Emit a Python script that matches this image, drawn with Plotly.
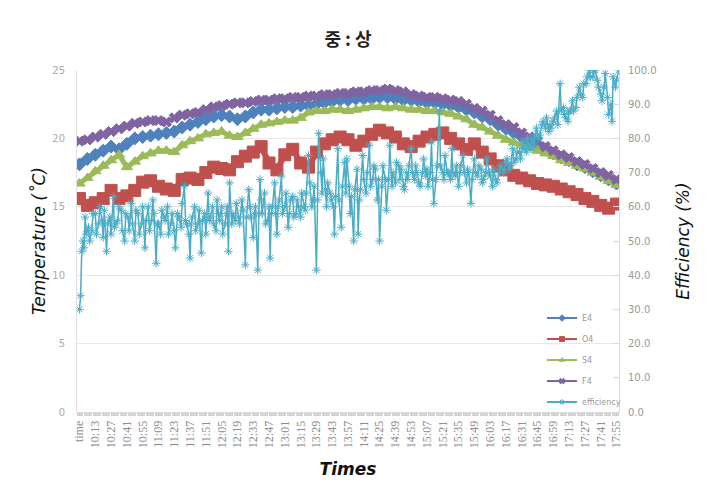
import plotly.graph_objects as go

# ---------------- data ----------------
tick_labels = ["time", "10:13", "10:27", "10:41", "10:55", "11:09", "11:23", "11:37", "11:51",
               "12:05", "12:19", "12:33", "12:47", "13:01", "13:15", "13:29", "13:43", "13:57",
               "14:11", "14:25", "14:39", "14:53", "15:07", "15:21", "15:35", "15:49", "16:03",
               "16:17", "16:31", "16:45", "16:59", "17:13", "17:27", "17:41", "17:55"]
tick_step_min = 14  # minutes between labelled categories

series_names = ["E4", "O4", "S4", "F4", "efficiency"]

# temperature samples, minutes after the first record ("time" row), every 7 minutes
temp_t = list(range(0, 477, 7))

E4 = [18.1, 18.5, 18.8, 19.1, 19.4, 19.2, 19.6, 20.0, 20.1, 20.2,
      20.3, 20.4, 20.5, 20.8, 21.0, 21.2, 21.4, 21.6, 21.7, 21.6,
      21.4, 21.6, 21.9, 22.1, 22.1, 22.2, 22.3, 22.3, 22.4, 22.4,
      22.5, 22.6, 22.7, 22.8, 22.8, 22.9, 22.9, 22.9, 23.0, 23.0,
      22.9, 22.8, 22.8, 22.7, 22.6, 22.6, 22.5, 22.4, 22.3, 22.1,
      21.9, 21.6, 21.4, 21.0, 20.7, 20.4, 20.1, 19.8, 19.5, 19.2,
      18.9, 18.6, 18.4, 18.1, 17.9, 17.6, 17.3, 17.0, 16.7]

O4 = [15.6, 15.1, 15.3, 15.6, 16.2, 15.6, 15.8, 16.2, 16.8, 16.9,
      16.5, 16.3, 16.2, 17.0, 17.1, 17.0, 17.5, 17.9, 17.8, 17.7,
      18.3, 18.7, 19.0, 19.4, 18.2, 17.7, 18.8, 19.2, 18.2, 17.9,
      19.0, 19.6, 19.9, 20.1, 19.9, 19.5, 19.8, 20.3, 20.6, 20.4,
      20.1, 19.6, 19.4, 19.8, 20.1, 20.3, 20.4, 20.0, 19.6, 19.2,
      19.6, 19.0, 18.5, 18.0, 17.7, 17.3, 17.1, 16.9, 16.7, 16.6,
      16.5, 16.3, 16.1, 15.9, 15.6, 15.4, 15.1, 14.9, 15.2]

S4 = [16.7, 17.1, 17.6, 18.0, 18.4, 18.8, 17.9, 18.3, 18.7, 18.9,
      19.1, 19.1, 19.0, 19.5, 19.8, 20.0, 20.3, 20.4, 20.5, 20.2,
      20.1, 20.4, 20.7, 21.0, 21.1, 21.2, 21.3, 21.3, 21.5, 21.9,
      22.0, 22.0, 22.1, 22.1, 22.0, 22.1, 22.2, 22.3, 22.3, 22.2,
      22.3, 22.2, 22.1, 22.1, 22.0, 22.0, 21.9, 21.8, 21.6, 21.4,
      21.0, 20.8, 20.5, 20.2, 19.9, 19.7, 19.5, 19.3, 19.1, 18.9,
      18.7, 18.4, 18.2, 18.0, 17.8, 17.5, 17.2, 16.9, 16.6]

F4 = [19.8, 19.9, 20.1, 20.3, 20.5, 20.7, 20.9, 21.1, 21.2, 21.3,
      21.3, 21.2, 21.5, 21.7, 21.8, 21.9, 22.1, 22.3, 22.4, 22.5,
      22.6, 22.6, 22.7, 22.8, 22.8, 22.9, 22.9, 23.0, 23.0, 23.1,
      23.1, 23.2, 23.2, 23.3, 23.3, 23.4, 23.4, 23.5, 23.5, 23.6,
      23.5, 23.4, 23.2, 23.1, 23.0, 23.0, 22.9, 22.8, 22.7, 22.5,
      22.2, 22.0, 21.7, 21.3, 21.0, 20.8, 20.4, 20.1, 19.8, 19.4,
      19.1, 18.8, 18.6, 18.3, 18.1, 17.8, 17.5, 17.3, 17.0]

# efficiency samples (minutes after the first record, %)
eff_t = [0, 1, 2, 3, 4, 5, 6, 8, 9, 11,
         12, 14, 15, 17, 18, 20, 21, 22, 24, 25,
         27, 28, 30, 31, 32, 34, 35, 37, 38, 40,
         41, 43, 44, 46, 47, 49, 50, 52, 53, 55,
         56, 58, 59, 61, 62, 64, 65, 66, 68, 69,
         70, 72, 73, 75, 76, 78, 79, 81, 82, 84,
         85, 87, 88, 90, 91, 93, 94, 95, 97, 98,
         99, 100, 102, 103, 105, 106, 108, 109, 111, 112,
         114, 115, 116, 118, 119, 121, 122, 123, 124, 126,
         127, 129, 130, 131, 132, 133, 135, 136, 138, 139,
         141, 142, 144, 145, 147, 148, 150, 151, 152, 154,
         155, 156, 158, 159, 160, 161, 162, 164, 165, 167,
         168, 169, 170, 171, 173, 174, 175, 176, 177, 179,
         180, 182, 183, 185, 186, 187, 189, 190, 192, 193,
         194, 196, 197, 199, 200, 201, 203, 204, 206, 207,
         208, 210, 211, 212, 214, 215, 216, 218, 219, 220,
         222, 223, 225, 226, 227, 229, 230, 232, 233, 235,
         236, 237, 239, 240, 241, 243, 244, 246, 247, 248,
         249, 251, 252, 254, 255, 257, 258, 260, 261, 262,
         264, 265, 266, 268, 269, 271, 272, 274, 275, 277,
         278, 280, 281, 283, 284, 285, 287, 288, 290, 291,
         292, 294, 295, 297, 298, 299, 301, 302, 304, 305,
         307, 308, 309, 311, 312, 313, 314, 316, 317, 319,
         320, 322, 323, 324, 326, 327, 329, 330, 331, 333,
         334, 336, 337, 338, 340, 341, 343, 344, 345, 347,
         348, 350, 351, 353, 354, 356, 357, 358, 360, 361,
         363, 364, 366, 367, 369, 370, 372, 373, 375, 376,
         378, 379, 381, 382, 384, 385, 387, 388, 390, 391,
         393, 394, 396, 397, 398, 400, 401, 403, 404, 405,
         407, 408, 410, 411, 413, 414, 416, 417, 418, 420,
         421, 423, 424, 426, 427, 429, 430, 431, 433, 434,
         435, 437, 438, 440, 441, 443, 444, 446, 447, 449,
         450, 452, 453, 455, 456, 457, 459, 460, 462, 463,
         465, 466, 468, 469, 471, 472, 473, 475, 476, 478]
eff_v = [30, 34, 47, 50, 48, 57, 52, 54, 50, 53,
         58, 58, 52, 55, 60, 56, 51, 59, 47, 55,
         57, 52, 63, 54, 55, 56, 60, 59, 53, 50,
         58, 57, 53, 61, 55, 50, 59, 58, 52, 55,
         60, 48, 56, 60, 53, 56, 62, 58, 43.5, 55,
         55, 52, 59, 57, 56, 60, 52, 55, 58, 53,
         48, 58, 57, 54, 61, 66, 56, 55, 52, 45,
         55, 57, 60, 53, 55, 59, 46.5, 56, 58, 52,
         64, 56, 57, 60, 55, 53, 62, 58, 56, 60,
         52, 55, 58, 60, 47, 67, 55, 58, 56, 61,
         57, 55, 62, 59, 43, 57, 65, 60, 57, 51,
         58, 60, 41.5, 58, 68, 62, 58, 64, 55, 56,
         60, 45, 58, 60, 67, 58, 52, 60, 62, 69,
         58, 60, 64, 54, 58, 62, 63, 57, 58, 62,
         60, 57, 64, 60, 59, 64, 75, 67, 60, 62,
         66, 41.5, 62, 81.5, 70, 64, 74, 65, 60, 67,
         64, 62, 60, 52, 63, 77, 62, 54, 66, 73,
         64, 74, 66, 58, 63, 50, 65, 71, 52, 62,
         65, 75, 68, 64, 70, 78, 66, 68, 72, 71,
         62, 68, 50, 66, 72, 68, 59, 68, 78, 66,
         70, 67, 73, 72, 68, 71, 66, 65, 70, 68,
         72, 77, 70, 68, 72, 70, 67, 66, 70, 74,
         69, 71, 66, 70, 79, 68, 61, 68, 72, 88,
         72, 70, 68, 75, 70, 70, 68, 77, 70, 69,
         72, 66, 70, 72, 75, 70, 67, 71, 70, 61,
         68, 74, 70, 69, 72, 71, 67, 68, 70, 74,
         70, 69, 66, 71, 68, 67, 70, 72, 71, 70,
         73, 74, 71, 72, 77, 73, 74, 76, 76, 74,
         79, 77, 76, 80, 78, 77, 80, 78, 81, 83,
         80, 81, 84, 85, 83, 86, 82, 84, 83, 85,
         86, 88, 84, 96, 88, 89, 87, 86, 85, 88,
         88, 91, 88, 89, 92, 95, 93, 92, 96, 96,
         98, 100, 98, 98, 100, 100, 97, 95, 93, 91,
         95, 99, 92, 87, 90, 85, 98, 95, 97, 100]

# ---------------- styles ----------------
colors = {"E4": "#4F81BD", "O4": "#C0504D", "S4": "#9BBB59", "F4": "#8064A2", "efficiency": "#4BACC6"}
symbols = {"E4": "diamond", "O4": "square", "S4": "triangle-up", "F4": "x", "efficiency": "asterisk-open"}
plot_msize = {"E4": 10, "O4": 12, "S4": 10, "F4": 9, "efficiency": 7}
plot_lwidth = {"E4": 5, "O4": 6, "S4": 5, "F4": 4, "efficiency": 1.5}
TICK_GRAY = "#8c8c8c"

temp_data = {"E4": E4, "O4": O4, "S4": S4, "F4": F4}

fig = go.Figure()
for name in ["E4", "O4", "S4", "F4"]:
    fig.add_trace(go.Scatter(
        x=temp_t, y=temp_data[name], name=name, mode="lines+markers", showlegend=False,
        line=dict(color=colors[name], width=plot_lwidth[name]),
        marker=dict(symbol=symbols[name], size=plot_msize[name], color=colors[name],
                    line=dict(color=colors[name], width=1))))
fig.add_trace(go.Scatter(
    x=eff_t, y=eff_v, name="efficiency", mode="lines+markers", yaxis="y2", showlegend=False,
    line=dict(color=colors["efficiency"], width=plot_lwidth["efficiency"]),
    marker=dict(symbol=symbols["efficiency"], size=plot_msize["efficiency"],
                color=colors["efficiency"], line=dict(color=colors["efficiency"], width=1))))

# legend entries (small symbols like the original legend)
for name in series_names:
    fig.add_trace(go.Scatter(
        x=[None], y=[None], name=name, mode="lines+markers", legendgroup=name,
        line=dict(color=colors[name], width=2),
        marker=dict(symbol=symbols[name], size=5, color=colors[name],
                    line=dict(color=colors[name], width=1))))

tickvals = [i * tick_step_min for i in range(len(tick_labels))]

# the page body adds an 8px offset; figure is sized to fit the 712x498 window
W, H = 704, 490

fig.update_layout(
    width=W, height=H,
    margin=dict(l=69, r=93, t=62, b=86),
    paper_bgcolor="white", plot_bgcolor="white",
    title=dict(text="<b>중 : 상</b>", x=(69 + (W - 93)) / 2 / W, xanchor="center",
               y=1 - 32 / H, yanchor="middle",
               font=dict(family="Noto Sans CJK KR", size=18, color="#222")),
    showlegend=True,
    legend=dict(x=0.858, y=0.317, xanchor="left", yanchor="top", bgcolor="rgba(0,0,0,0)",
                font=dict(family="DejaVu Sans", size=8, color="#999"),
                tracegroupgap=2, traceorder="grouped"),
    xaxis=dict(
        range=[-2.2, 478.2], tickmode="array", tickvals=tickvals, ticktext=tick_labels,
        tickangle=-90, tickfont=dict(family="Liberation Serif", size=12, color=TICK_GRAY),
        showgrid=False, zeroline=False, showline=True, linecolor="#d9d9d9", linewidth=1,
        ticks="outside", ticklen=3, tickcolor="#cccccc",
        minor=dict(dtick=1, tick0=0, ticks="outside", ticklen=3, tickcolor="#d4d4d4"),
        title=dict(text="<b><i>Times</i></b>", standoff=15,
                   font=dict(family="DejaVu Sans", size=17, color="#111")),
    ),
    yaxis=dict(
        range=[0, 25], dtick=5, tickfont=dict(family="DejaVu Sans", size=10, color="#aaaaaa"),
        showgrid=True, gridcolor="#e8e8e8", zeroline=False, showline=True,
        linecolor="#e0e0e0", ticks="", ticklabelstandoff=9,
        title=dict(text="<i>Temperature (˚C)</i>", standoff=2,
                   font=dict(family="DejaVu Sans", size=17, color="#111")),
    ),
    yaxis2=dict(
        range=[0, 100], dtick=10, tickformat=".1f", overlaying="y", side="right",
        tickfont=dict(family="DejaVu Sans", size=10, color="#999999"),
        showgrid=False, zeroline=False, showline=True, linecolor="#d9d9d9",
        ticks="inside", ticklen=6, tickcolor="#d9d9d9", ticklabelstandoff=6,
        title=dict(text="<i>Efficiency (%)</i>", standoff=21,
                   font=dict(family="DejaVu Sans", size=17, color="#111")),
    ),
)

fig.write_html("out.html")
